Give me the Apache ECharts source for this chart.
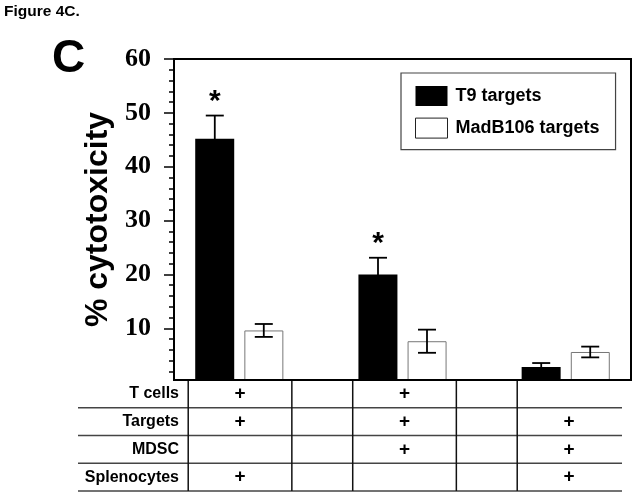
<!DOCTYPE html>
<html>
<head>
<meta charset="utf-8">
<script src="https://cdn.jsdelivr.net/npm/echarts@6/dist/echarts.min.js"></script>
<style>
html,body{margin:0;padding:0;background:#fff;}
#c{width:637px;height:496px;}
</style>
</head>
<body>
<div id="c"></div>
<script>
// ---- data ----
const groups = [1, 2, 3];
const t9Values = [45.2, 20.0, 2.8];
const t9Errors = [4.3, 3.1, 0.75];
const madValues = [9.6, 7.6, 5.6];
const madErrors = [1.2, 2.15, 1.0];
const significance = ['*', '*', ''];
const yTicks = [10, 20, 30, 40, 50, 60];
const yMinorTicks = [2, 4, 6, 8, 12, 14, 16, 18, 22, 24, 26, 28, 32, 34, 36, 38, 42, 44, 46, 48, 52, 54, 56, 58];
const seriesNames = ['T9 targets', 'MadB106 targets'];
const tableRows = ['T cells', 'Targets', 'MDSC', 'Splenocytes'];
// marks per row, one entry per group (columns under each bar group)
const tableMarks = [
  ['+', '+', ''],
  ['+', '+', '+'],
  ['', '+', '+'],
  ['+', '', '+']
];

// ---- layout / style ----
const SANS = '"Liberation Sans", Arial, sans-serif';
const SERIF = '"Liberation Serif", "Times New Roman", serif';
const BAR_OFFSET = 24.5;
const tableColumnEdges = [0.685, 1.315, 1.685, 2.315, 2.685];

function makeErrorRender(side, marks) {
  return function (params, api) {
    const i = params.dataIndex;
    const gx = api.value(0), v = api.value(1), e = api.value(2);
    const c = api.coord([gx, v]);
    const top = api.coord([gx, v + e]);
    const bot = api.coord([gx, v - e]);
    const x = c[0] + side * BAR_OFFSET;
    const half = 9;
    const st = { stroke: '#000', lineWidth: 1.8 };
    const children = [
      { type: 'line', shape: { x1: x, y1: top[1], x2: x, y2: bot[1] }, style: st },
      { type: 'line', shape: { x1: x - half, y1: top[1], x2: x + half, y2: top[1] }, style: st },
      { type: 'line', shape: { x1: x - half, y1: bot[1], x2: x + half, y2: bot[1] }, style: st }
    ];
    if (marks && marks[i]) {
      children.push({
        type: 'text',
        style: { text: marks[i], x: x, y: top[1] - 14, align: 'center', verticalAlign: 'middle',
                 font: 'bold 30px ' + SANS, fill: '#000' }
      });
    }
    return { type: 'group', children: children };
  };
}

const markCells = [];
tableRows.forEach(function (r, ri) {
  tableMarks[ri].forEach(function (m, gi) {
    if (m) markCells.push([groups[gi], ri, m]);
  });
});

const chart = echarts.init(document.getElementById('c'), null, { renderer: 'canvas' });
const option = {
  animation: false,
  backgroundColor: '#fff',
  title: [
    { text: 'Figure 4C.', left: 4, top: 4, padding: 0,
      textStyle: { fontFamily: SANS, fontWeight: 'bold', fontSize: 15.5, color: '#000' } },
    { text: 'C', left: 52, top: 36, padding: 0,
      textStyle: { fontFamily: SANS, fontWeight: 'bold', fontSize: 46, color: '#000' } }
  ],
  legend: {
    data: [
      { name: seriesNames[0] },
      { name: seriesNames[1], itemStyle: { color: '#fff', borderColor: '#222', borderWidth: 1 } }
    ],
    orient: 'vertical',
    left: 401, top: 73,
    padding: [13, 16, 11, 14],
    borderColor: '#444', borderWidth: 1.2,
    itemWidth: 32, itemHeight: 20, itemGap: 11.6,
    icon: 'rect',
    selectedMode: false,
    textStyle: { fontFamily: SANS, fontWeight: 'bold', fontSize: 18, color: '#000', padding: [0, 0, 0, 3] }
  },
  grid: [
    { left: 174, top: 59, right: 6, bottom: 116, show: true, borderColor: '#000', borderWidth: 2 },
    { left: 78, top: 380, right: 15, bottom: 5 }
  ],
  xAxis: [
    { gridIndex: 0, type: 'value', min: 0.6, max: 3.4, z: 5,
      axisLine: { show: true, onZero: false, lineStyle: { color: '#000', width: 2 } },
      axisTick: { show: false }, axisLabel: { show: false }, splitLine: { show: false } },
    { gridIndex: 1, type: 'value', min: 0.015, max: 3.322, show: false }
  ],
  yAxis: [
    { gridIndex: 0, type: 'value', min: 0.4, max: 60,
      axisLine: { show: true, lineStyle: { color: '#000', width: 2 } },
      axisTick: { show: true, length: 10, customValues: yTicks, lineStyle: { color: '#000', width: 1.5 } },
      axisLabel: { customValues: yTicks, margin: 23, fontFamily: SERIF, fontWeight: 'bold', fontSize: 26, color: '#000' },
      splitLine: { show: false },
      name: '% cytotoxicity', nameLocation: 'middle', nameRotate: 90, nameGap: 58,
      nameTextStyle: { fontFamily: SANS, fontWeight: 'bold', fontSize: 32, color: '#000' } },
    { gridIndex: 0, type: 'value', min: 0.4, max: 60, position: 'left',
      axisLine: { show: false },
      axisTick: { show: true, length: 5, customValues: yMinorTicks, lineStyle: { color: '#000', width: 1.5 } },
      axisLabel: { show: false }, splitLine: { show: false } },
    { gridIndex: 1, type: 'category', data: tableRows, inverse: true,
      axisLine: { show: false }, axisTick: { show: false }, splitLine: { show: false },
      axisLabel: { margin: -101, fontFamily: SANS, fontWeight: 'bold', fontSize: 16, color: '#000' } }
  ],
  series: [
    { name: seriesNames[0], type: 'bar', xAxisIndex: 0, yAxisIndex: 0,
      data: groups.map(function (g, i) { return [g, t9Values[i]]; }),
      barWidth: 39, barGap: '26%', itemStyle: { color: '#000' } },
    { name: seriesNames[1], type: 'bar', xAxisIndex: 0, yAxisIndex: 0,
      data: groups.map(function (g, i) { return [g, madValues[i]]; }),
      barWidth: 39, barGap: '26%', itemStyle: { color: '#fff', borderColor: '#777', borderWidth: 1 } },
    { type: 'custom', xAxisIndex: 0, yAxisIndex: 0, z: 10,
      data: groups.map(function (g, i) { return [g, t9Values[i], t9Errors[i]]; }),
      renderItem: makeErrorRender(-1, significance) },
    { type: 'custom', xAxisIndex: 0, yAxisIndex: 0, z: 10,
      data: groups.map(function (g, i) { return [g, madValues[i], madErrors[i]]; }),
      renderItem: makeErrorRender(1, null) },
    // table row lines
    { type: 'custom', xAxisIndex: 1, yAxisIndex: 2, silent: true,
      data: tableRows.map(function (r, i) { return [0.015, i]; }),
      renderItem: function (params, api) {
        const cs = params.coordSys;
        const c = api.coord([api.value(0), api.value(1)]);
        const h = api.size([0, 1])[1];
        const y = c[1] + h / 2;
        return { type: 'line', shape: { x1: cs.x, y1: y, x2: cs.x + cs.width, y2: y },
                 style: { stroke: '#444', lineWidth: 1.6 } };
      } },
    // table column lines
    { type: 'custom', xAxisIndex: 1, yAxisIndex: 2, silent: true,
      data: tableColumnEdges.map(function (e) { return [e, 0]; }),
      renderItem: function (params, api) {
        const cs = params.coordSys;
        const x = api.coord([api.value(0), 0])[0];
        return { type: 'line', shape: { x1: x, y1: cs.y - 1, x2: x, y2: cs.y + cs.height },
                 style: { stroke: '#111', lineWidth: 1.5 } };
      } },
    // table marks
    { type: 'custom', xAxisIndex: 1, yAxisIndex: 2, silent: true,
      data: markCells.map(function (m) { return [m[0], m[1]]; }),
      renderItem: function (params, api) {
        const c = api.coord([api.value(0), api.value(1)]);
        return { type: 'text', style: { text: markCells[params.dataIndex][2], x: c[0], y: c[1],
                 align: 'center', verticalAlign: 'middle', font: 'bold 19px ' + SANS, fill: '#000' } };
      } }
  ]
};
chart.setOption(option);
</script>
</body>
</html>
